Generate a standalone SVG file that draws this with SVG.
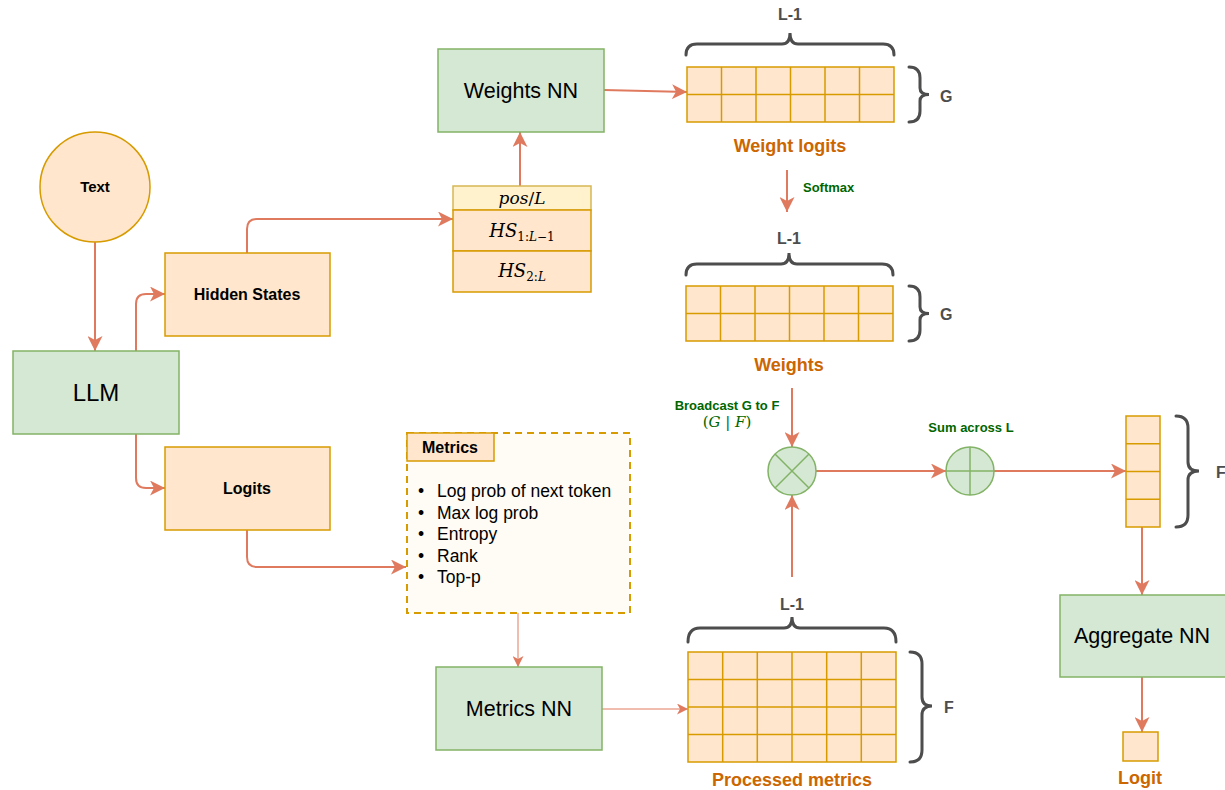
<svg xmlns="http://www.w3.org/2000/svg" width="1225" height="790" viewBox="0 0 1225 790">
<defs>
<marker id="arr" markerUnits="userSpaceOnUse" markerWidth="16" markerHeight="15" refX="15" refY="7.5" orient="auto">
<path d="M0,0 L15,7.5 L0,15 L4,7.5 z" fill="#e07a5f"/>
</marker>
<marker id="arrs" markerUnits="userSpaceOnUse" markerWidth="12" markerHeight="11" refX="11" refY="5.5" orient="auto">
<path d="M0,0 L11,5.5 L0,11 L3,5.5 z" fill="#e07a5f"/>
</marker>
<style>
.g{fill:#d5e8d4;stroke:#82b366;stroke-width:1.5}
.o{fill:#ffe6cc;stroke:#d79b00;stroke-width:1.5}
.y{fill:#fff2cc;stroke:#d6b656;stroke-width:1.5}
.c{fill:none;stroke:#e07a5f;stroke-width:2}
.ct{fill:none;stroke:#e07a5f;stroke-width:1}
.br{fill:none;stroke:#4d4d4d;stroke-width:3;stroke-linecap:round}
.gl{stroke:#d79b00;stroke-width:1.5}
.t{font-family:"Liberation Sans",Arial,sans-serif;fill:#000}
.b{font-weight:bold}
.lab{font-family:"Liberation Sans",Arial,sans-serif;font-weight:bold;fill:#4d4d4d;font-size:16px}
.or{font-family:"Liberation Sans",Arial,sans-serif;font-weight:bold;fill:#cc6600;font-size:18px}
.gr{font-family:"Liberation Sans",Arial,sans-serif;font-weight:bold;fill:#006600;font-size:13px}
.m{font-family:"DejaVu Serif","Liberation Serif",serif;font-style:italic;fill:#000}
</style>
</defs>

<g id="connectors">
<path class="c" d="M95,242 V351" marker-end="url(#arr)"/>
<path class="c" d="M136,351 V304 Q136,294 146,294 H165" marker-end="url(#arr)"/>
<path class="c" d="M136,434 V478 Q136,488 146,488 H165" marker-end="url(#arr)"/>
<path class="c" d="M247,253 V229 Q247,219 257,219 H453" marker-end="url(#arr)"/>
<path class="c" d="M247,530 V557 Q247,567 257,567 H406" marker-end="url(#arr)"/>
<path class="c" d="M520,186 V132" marker-end="url(#arr)"/>
<path class="c" d="M604,90 L687,92" marker-end="url(#arr)"/>
<path class="c" d="M787,170 V212" marker-end="url(#arr)"/>
<path class="c" d="M792,388 V447" marker-end="url(#arr)"/>
<path class="c" d="M792,577 V495" marker-end="url(#arr)"/>
<path class="c" d="M816,471 H946" marker-end="url(#arr)"/>
<path class="c" d="M994,471 H1126" marker-end="url(#arr)"/>
<path class="c" d="M1142,527 V595" marker-end="url(#arr)"/>
<path class="c" d="M1142,677 V732" marker-end="url(#arr)"/>
<path class="ct" d="M518,613 V667" marker-end="url(#arrs)"/>
<path class="ct" d="M602,709 H688" marker-end="url(#arrs)"/>
</g>

<g id="text-node">
<circle class="o" cx="95" cy="187" r="55"/>
<text class="t b" x="95" y="192" font-size="15" text-anchor="middle">Text</text>
</g>

<g id="llm">
<rect class="g" x="13" y="351" width="166" height="83"/>
<text class="t" x="96" y="401" font-size="24" text-anchor="middle">LLM</text>
</g>

<g id="hidden-states">
<rect class="o" x="165" y="253" width="165" height="83"/>
<text class="t b" x="247" y="300" font-size="16" text-anchor="middle">Hidden States</text>
</g>

<g id="logits">
<rect class="o" x="165" y="447" width="165" height="83"/>
<text class="t b" x="247" y="494" font-size="16" text-anchor="middle">Logits</text>
</g>

<g id="hs-stack">
<rect class="y" x="453" y="186" width="138" height="24"/>
<rect class="o" x="453" y="210" width="138" height="41"/>
<rect class="o" x="453" y="251" width="138" height="41"/>
<text class="m" x="522" y="204" font-size="17" text-anchor="middle">pos<tspan font-style="normal">/</tspan>L</text>
<text class="m" x="522" y="237" font-size="18" text-anchor="middle">HS<tspan font-size="12" dy="4"><tspan font-style="normal">1:</tspan>L<tspan font-style="normal">−1</tspan></tspan></text>
<text class="m" x="522" y="277" font-size="18" text-anchor="middle">HS<tspan font-size="12" dy="4"><tspan font-style="normal">2:</tspan>L</tspan></text>
</g>

<g id="weights-nn">
<rect class="g" x="438" y="49" width="166" height="83"/>
<text class="t" x="521" y="98" font-size="21.5" text-anchor="middle">Weights NN</text>
</g>

<g id="weight-logits">
<rect class="o" x="687" y="67" width="207" height="55"/>
<path class="gl" d="M721.5,67 V122 M756,67 V122 M790.5,67 V122 M825,67 V122 M859.5,67 V122 M687,94.5 H894"/>
<path class="br" d="M686,55 Q686,44 697,44 H782 Q790,44 790,33 Q790,44 798,44 H883 Q894,44 894,55"/>
<text class="lab" x="790" y="20" text-anchor="middle">L-1</text>
<path class="br" d="M909,67 Q920,67 920,78 V88 Q920,94.5 929,94.5 Q920,94.5 920,101 V111 Q920,122 909,122"/>
<text class="lab" x="940" y="102">G</text>
<text class="or" x="790" y="152" text-anchor="middle">Weight logits</text>
<text class="gr" x="803" y="192" font-size="12">Softmax</text>
</g>

<g id="weights">
<rect class="o" x="686" y="286" width="207" height="55"/>
<path class="gl" d="M720.5,286 V341 M755,286 V341 M789.5,286 V341 M824,286 V341 M858.5,286 V341 M686,313.5 H893"/>
<path class="br" d="M686,275 Q686,264 697,264 H781 Q789,264 789,253 Q789,264 797,264 H882 Q893,264 893,275"/>
<text class="lab" x="789" y="244" text-anchor="middle">L-1</text>
<path class="br" d="M909,286 Q920,286 920,297 V307 Q920,313.5 929,313.5 Q920,313.5 920,320 V330 Q920,341 909,341"/>
<text class="lab" x="940" y="320">G</text>
<text class="or" x="789" y="371" text-anchor="middle">Weights</text>
</g>

<g id="multiply">
<circle class="g" cx="792" cy="471" r="24"/>
<path d="M775,454 L809,488 M809,454 L775,488" stroke="#82b366" stroke-width="1.5"/>
<text class="gr" x="727" y="410" text-anchor="middle">Broadcast G to F</text>
<text x="727" y="427" font-family="DejaVu Serif,Liberation Serif,serif" font-size="15" fill="#006600" text-anchor="middle">(<tspan font-style="italic">G</tspan> | <tspan font-style="italic">F</tspan>)</text>
</g>

<g id="sum">
<circle class="g" cx="970" cy="471" r="24"/>
<path d="M946,471 H994 M970,447 V495" stroke="#82b366" stroke-width="1.5"/>
<text class="gr" x="971" y="432" text-anchor="middle">Sum across L</text>
</g>

<g id="vector">
<rect class="o" x="1126" y="416" width="34" height="111"/>
<path class="gl" d="M1126,443.75 H1160 M1126,471.5 H1160 M1126,499.25 H1160"/>
<path class="br" d="M1176,416 Q1188,416 1188,428 V462 Q1188,471 1199,471 Q1188,471 1188,480 V515 Q1188,527 1176,527"/>
<text class="lab" x="1216" y="478">F</text>
</g>

<g id="aggregate-nn">
<rect class="g" x="1060" y="595" width="170" height="82"/>
<text class="t" x="1142" y="643" font-size="21.5" text-anchor="middle">Aggregate NN</text>
</g>

<g id="logit">
<rect class="o" x="1123" y="732" width="35" height="29"/>
<text class="or" x="1140" y="784" text-anchor="middle">Logit</text>
</g>

<g id="metrics">
<rect x="407" y="433" width="223" height="180" fill="#fffcf5" stroke="#d79b00" stroke-width="2" stroke-dasharray="7,5"/>
<rect class="o" x="407" y="433" width="87" height="28"/>
<text class="t b" x="450" y="453" font-size="16" text-anchor="middle">Metrics</text>
<g class="t" font-size="17.5">
<text x="418" y="497">•</text><text x="437" y="497">Log prob of next token</text>
<text x="418" y="519">•</text><text x="437" y="519">Max log prob</text>
<text x="418" y="540">•</text><text x="437" y="540">Entropy</text>
<text x="418" y="562">•</text><text x="437" y="562">Rank</text>
<text x="418" y="583">•</text><text x="437" y="583">Top-p</text>
</g>
</g>

<g id="metrics-nn">
<rect class="g" x="436" y="667" width="166" height="83"/>
<text class="t" x="519" y="716" font-size="21.5" text-anchor="middle">Metrics NN</text>
</g>

<g id="processed-metrics">
<rect class="o" x="688" y="652" width="208" height="110"/>
<path class="gl" d="M722.7,652 V762 M757.3,652 V762 M792,652 V762 M826.7,652 V762 M861.3,652 V762 M688,679.5 H896 M688,707 H896 M688,734.5 H896"/>
<path class="br" d="M688,642 Q688,628 700,628 H784 Q792,628 792,617 Q792,628 800,628 H884 Q896,628 896,642"/>
<text class="lab" x="792" y="610" text-anchor="middle">L-1</text>
<path class="br" d="M910,652 Q922,652 922,664 V697 Q922,706 932,706 Q922,706 922,715 V750 Q922,762 910,762"/>
<text class="lab" x="944" y="713">F</text>
<text class="or" x="792" y="786" text-anchor="middle">Processed metrics</text>
</g>
</svg>
